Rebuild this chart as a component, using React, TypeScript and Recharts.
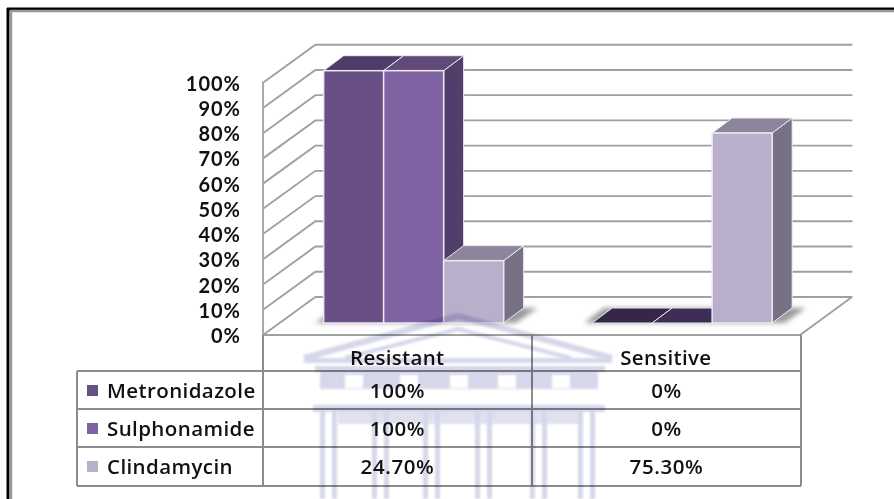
import { BarChart, Bar, XAxis, YAxis, CartesianGrid } from "recharts";

const categories = ["Resistant", "Sensitive"];
const seriesNames = ["Metronidazole", "Sulphonamide", "Clindamycin"];
const metronidazole = [100, 0];
const sulphonamide = [100, 0];
const clindamycin = [24.7, 75.3];
const tableLabels = [
  ["100%", "0%"],
  ["100%", "0%"],
  ["24.70%", "75.30%"],
];
const yTicks = [0, 10, 20, 30, 40, 50, 60, 70, 80, 90, 100];

const data = categories.map((name, i) => ({
  name,
  metronidazole: metronidazole[i],
  sulphonamide: sulphonamide[i],
  clindamycin: clindamycin[i],
}));

const COLORS = {
  metronidazole: { front: "#684f86", top: "#4f3c68", side: "#46345c", zero: "#35264a" },
  sulphonamide: { front: "#8063a2", top: "#604a7a", side: "#523e6b", zero: "#3e2d56" },
  clindamycin: { front: "#b9afcb", top: "#8d8599", side: "#787185", zero: "#8d8599" },
  wall: "#a0a0a0",
  table: "#8c8c8c",
  text: "#111111",
  watermark: "#d6d7ea",
};
const FONT = "'Open Sans', sans-serif";

// bars sit part way into the floor; the axes are on the front edge and the wall behind
const FRONT = { dx: -16.4, dy: 12 };
const BACK = { dx: 36, dy: -26 };
const BAR_DEPTH = { dx: 20, dy: -15 };
const PLOT = { left: 279.4, right: 816.4, top: 70.7, bottom: 323 };

function Bar3D(props: any) {
  const { x, y, width, height, palette, withShadow } = props;
  const { dx, dy } = BAR_DEPTH;
  const top = `${x},${y} ${x + dx},${y + dy} ${x + width + dx},${y + dy} ${x + width},${y}`;
  const side = `${x + width},${y} ${x + width + dx},${y + dy} ${x + width + dx},${y + height + dy} ${x + width},${y + height}`;
  const base = y + height;
  return (
    <g>
      {withShadow && (
        <polygon
          points={`${x - 8},${base} ${x + 12},${base - 15} ${x + 3 * width + 34},${base - 15} ${x + 3 * width + 12},${base}`}
          fill="#9a9a9a"
          filter="url(#floorBlur)"
        />
      )}
      {height > 0 && <polygon points={side} fill={palette.side} stroke="#ece9f2" strokeWidth={1} />}
      <polygon points={top} fill={height > 0 ? palette.top : palette.zero} stroke="#ece9f2" strokeWidth={1} />
      {height > 0 && <rect x={x} y={y} width={width} height={height} fill={palette.front} stroke="#ece9f2" strokeWidth={1.5} />}
    </g>
  );
}

function WallLine(props: any) {
  const { x1, x2, y1 } = props;
  return (
    <polyline
      points={`${x1 + FRONT.dx},${y1 + FRONT.dy} ${x1 + BACK.dx},${y1 + BACK.dy} ${x2 + BACK.dx},${y1 + BACK.dy}`}
      fill="none"
      stroke={COLORS.wall}
      strokeWidth={1.9}
    />
  );
}

function YTick(props: any) {
  const { y, payload } = props;
  return (
    <text x={241} y={y + 20} textAnchor="end" fontFamily="Lato, sans-serif" fontSize={20} fontWeight={700} letterSpacing={1} fill={COLORS.text}>
      {payload.value}%
    </text>
  );
}

function XTick(props: any) {
  const { x, payload } = props;
  return (
    <text x={x + FRONT.dx} y={365} textAnchor="middle" fontFamily={FONT} fontSize={20.5} fontWeight={600} letterSpacing={0.3} fill={COLORS.text}>
      {payload.value}
    </text>
  );
}

const COLUMN_X = [263, 532, 801];
const ROW_Y = [371, 409, 447, 486];
const LEFT_X = 77;

function DataTable() {
  const keys = [COLORS.metronidazole.front, COLORS.sulphonamide.front, COLORS.clindamycin.front];
  const line = { stroke: COLORS.table, strokeWidth: 2 };
  return (
    <g>
      <line x1={COLUMN_X[0]} x2={COLUMN_X[0]} y1={335} y2={ROW_Y[3]} {...line} />
      <line x1={COLUMN_X[1]} x2={COLUMN_X[1]} y1={335} y2={ROW_Y[3]} {...line} />
      <line x1={COLUMN_X[2]} x2={COLUMN_X[2]} y1={335} y2={ROW_Y[3]} {...line} />
      <line x1={LEFT_X} x2={LEFT_X} y1={ROW_Y[0]} y2={ROW_Y[3]} {...line} />
      {ROW_Y.map((y) => (
        <line key={y} x1={LEFT_X} x2={COLUMN_X[2]} y1={y} y2={y} {...line} />
      ))}
      {seriesNames.map((name, r) => (
        <g key={name}>
          <rect x={87} y={ROW_Y[r] + 14} width={11} height={11} fill={keys[r]} />
          <text x={107} y={ROW_Y[r] + 26.5} fontFamily={FONT} fontSize={20.5} fontWeight={600} letterSpacing={0.4} fill={COLORS.text}>
            {name}
          </text>
          {categories.map((c, i) => (
            <text
              key={c}
              x={(COLUMN_X[i] + COLUMN_X[i + 1]) / 2}
              y={ROW_Y[r] + 27}
              textAnchor="middle"
              fontFamily={FONT}
              fontSize={20.5}
              fontWeight={600}
              letterSpacing={0.6}
              fill={COLORS.text}
            >
              {tableLabels[r][i]}
            </text>
          ))}
        </g>
      ))}
    </g>
  );
}

// pale building crest that lies over the lower part of the page
function Watermark() {
  const columns = [320, 372, 423, 475, 530, 578];
  const windows = [345, 400, 450, 498, 552];
  const c = COLORS.watermark;
  return (
    <g style={{ mixBlendMode: "multiply" }} filter="url(#markBlur)">
      <polyline points="304,358 458,316 612,358" fill="none" stroke={c} strokeWidth={6} strokeLinejoin="round" />
      <polyline points="345,358 458,329 571,358" fill="none" stroke={c} strokeWidth={4} />
      <rect x={304} y={358} width={308} height={5} fill={c} />
      <rect x={315} y={366} width={290} height={6} fill={c} />
      <rect x={320} y={372} width={278} height={17} fill={c} />
      {windows.map((x) => (
        <rect key={x} x={x} y={375} width={18} height={13} fill="#fff" />
      ))}
      <rect x={313} y={405} width={292} height={7} fill={c} />
      <rect x={338} y={412} width={242} height={12} fill={c} opacity={0.75} />
      {columns.map((x) => (
        <g key={x}>
          <rect x={x} y={412} width={5} height={87} fill={c} />
          <rect x={x + 12} y={412} width={5} height={87} fill={c} />
        </g>
      ))}
    </g>
  );
}

export default function App() {
  return (
    <div style={{ position: "absolute", left: 0, top: 0, width: 894, height: 499, background: "#fff", overflow: "hidden" }}>
      <svg width={894} height={499} style={{ position: "absolute", left: 0, top: 0 }}>
        <line x1={7} x2={894} y1={9} y2={9} stroke="#000" strokeWidth={3} />
        <line x1={8} x2={8} y1={8} y2={499} stroke="#000" strokeWidth={3} />
        <line x1={10} x2={894} y1={11} y2={11} stroke="#999" strokeWidth={2.5} />
        <line x1={11} x2={11} y1={11} y2={499} stroke="#999" strokeWidth={2.5} />
      </svg>
      <div style={{ position: "absolute", left: 0, top: 0 }}>
        <BarChart
          width={894}
          height={499}
          data={data}
          barGap={0}
          barCategoryGap={44.25}
          margin={{ left: PLOT.left - 60, right: 894 - PLOT.right, top: PLOT.top, bottom: 499 - PLOT.bottom - 30 }}
        >
          <defs>
            <filter id="floorBlur" x="-10%" y="-50%" width="120%" height="200%">
              <feGaussianBlur stdDeviation="2.5" />
            </filter>
          </defs>
          <CartesianGrid vertical={false} horizontal={(p: any) => <WallLine key={p.key ?? p.y1} {...p} />} />
          <XAxis dataKey="name" height={30} axisLine={false} tickLine={false} interval={0} tick={<XTick />} />
          <YAxis width={60} domain={[0, 100]} ticks={yTicks} axisLine={false} tickLine={false} interval={0} tick={<YTick />} />
          <Bar dataKey="metronidazole" isAnimationActive={false} shape={(p: any) => <Bar3D {...p} palette={COLORS.metronidazole} withShadow />} />
          <Bar dataKey="sulphonamide" isAnimationActive={false} shape={(p: any) => <Bar3D {...p} palette={COLORS.sulphonamide} />} />
          <Bar dataKey="clindamycin" isAnimationActive={false} shape={(p: any) => <Bar3D {...p} palette={COLORS.clindamycin} />} />
        </BarChart>
      </div>
      <svg width={894} height={499} style={{ position: "absolute", left: 0, top: 0, pointerEvents: "none" }}>
        <defs>
          <filter id="markBlur" x="-5%" y="-5%" width="110%" height="110%">
            <feGaussianBlur stdDeviation="0.8" />
          </filter>
        </defs>
        <line x1={263} x2={263} y1={82} y2={335} stroke={COLORS.wall} strokeWidth={1.8} />
        <polyline points="263,335 800,335 852,297" fill="none" stroke={COLORS.wall} strokeWidth={1.8} />
        <DataTable />
        <Watermark />
      </svg>
    </div>
  );
}
